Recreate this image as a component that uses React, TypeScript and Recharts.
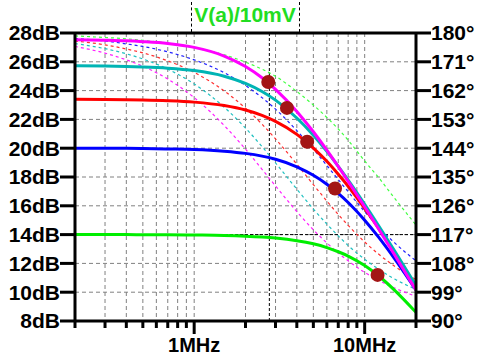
import {
    ComposedChart,
    CartesianGrid,
    Line,
    ReferenceDot,
    ReferenceLine,
    XAxis,
    YAxis
} from "recharts";

// frequency points (Hz)
const freqs = [2e5, 3e5, 4e5, 5e5, 7e5, 1e6, 1.5e6, 2e6, 2.5e6, 3e6, 4e6, 5e6, 6e6, 7e6, 8e6, 1e7, 1.2e7, 1.5e7, 2e7];

// magnitude (dB)
const magMagenta = [27.53, 27.5, 27.46, 27.4, 27.27, 27.0, 26.4, 25.67, 24.89, 24.09, 22.55, 21.14, 19.87, 18.73, 17.7, 15.93, 14.44, 12.58, 10.14];
const magCyan = [25.72, 25.7, 25.67, 25.64, 25.56, 25.39, 25.0, 24.5, 23.94, 23.34, 22.1, 20.9, 19.78, 18.74, 17.79, 16.11, 14.67, 12.86, 10.46];
const magRed = [23.4, 23.38, 23.37, 23.35, 23.3, 23.2, 22.96, 22.65, 22.28, 21.86, 20.96, 20.01, 19.09, 18.19, 17.36, 15.82, 14.48, 12.74, 10.4];
const magBlue = [20.0, 19.99, 19.99, 19.98, 19.95, 19.91, 19.79, 19.64, 19.45, 19.23, 18.71, 18.12, 17.5, 16.86, 16.23, 15.0, 13.86, 12.32, 10.15];
const magGreen = [14.0, 14.0, 14.0, 13.99, 13.99, 13.97, 13.94, 13.89, 13.83, 13.76, 13.58, 13.36, 13.1, 12.81, 12.51, 11.85, 11.16, 10.13, 8.6];

// phase (degrees), dashed traces
const phMagenta = [175.8, 173.7, 171.6, 169.6, 165.6, 159.8, 151.1, 143.7, 137.4, 132.2, 124.2, 118.5, 114.4, 111.2, 108.8, 105.2, 102.8, 100.3, 97.7];
const phCyan = [176.7, 175.1, 173.5, 171.9, 168.7, 164.1, 156.8, 150.3, 144.5, 139.4, 131.2, 125.0, 120.3, 116.6, 113.6, 109.3, 106.3, 103.1, 99.9];
const phRed = [177.5, 176.3, 175.0, 173.8, 171.3, 167.7, 161.9, 156.5, 151.5, 146.9, 139.0, 132.6, 127.5, 123.3, 119.9, 114.7, 111.0, 107.1, 102.9];
const phBlue = [178.3, 177.5, 176.6, 175.8, 174.1, 171.6, 167.6, 163.6, 159.8, 156.2, 149.5, 143.7, 138.6, 134.2, 130.4, 124.2, 119.5, 114.4, 108.8];
const phGreen = [179.1, 178.6, 178.2, 177.7, 176.8, 175.4, 173.2, 170.9, 168.7, 166.5, 161.7, 157.5, 153.6, 150.0, 146.5, 140.0, 135.0, 128.3, 120.0];

// cursor markers (-3dB points)
const markerFreqs = [2.72e6, 3.5e6, 4.6e6, 6.7e6, 1.19e7];
const markerDb = [24.6, 22.8, 20.45, 17.2, 11.2];

const cursorFreq = 2.76e6;
const cursorDb = 14;

const xTicks = [2e5, 3e5, 4e5, 5e5, 6e5, 7e5, 8e5, 9e5, 1e6, 2e6, 3e6, 4e6, 5e6, 6e6, 7e6, 8e6, 9e6, 1e7, 2e7];
const xLabels: Record<number, string> = { 1000000: "1MHz", 10000000: "10MHz" };
const dbTicks = [8, 10, 12, 14, 16, 18, 20, 22, 24, 26, 28];
const degTicks = [90, 99, 108, 117, 126, 135, 144, 153, 162, 171, 180];

const data = freqs.map((f, i) => ({
    f,
    mM: magMagenta[i], mC: magCyan[i], mR: magRed[i], mB: magBlue[i], mG: magGreen[i],
    pM: phMagenta[i], pC: phCyan[i], pR: phRed[i], pB: phBlue[i], pG: phGreen[i],
}));

const FONT = '"Liberation Sans", Arial, sans-serif';

const XTick = (props: any) => {
    const { x, y, payload } = props;
    const label = xLabels[payload.value];
    return <g>
        <line x1={x} x2={x} y1={y} y2={y + (label ? 13 : 7)} stroke="#000" strokeWidth={3} />
        {label && <text x={x} y={y + 31} textAnchor="middle" fontSize={20} fontWeight="bold" fontFamily={FONT} fill="#000">{label}</text>}
    </g>;
};

const dash = { strokeWidth: 1.2, strokeDasharray: "3 3", dot: false, isAnimationActive: false, type: "monotone" as const, yAxisId: "deg" };
const solid = { strokeWidth: 3, dot: false, isAnimationActive: false, type: "monotone" as const, yAxisId: "db" };

export default function App() {
    return <div style={{ position: "absolute", left: 0, top: 0, width: 478, height: 357, background: "#fff" }}>
        <ComposedChart width={478} height={357} data={data} margin={{ top: 33, right: 0, bottom: 0, left: 0 }}>
            <CartesianGrid stroke="#808080" strokeDasharray="4 3" yAxisId="db" />
            <XAxis dataKey="f" type="number" scale="log" domain={[2e5, 2e7]} ticks={xTicks} allowDataOverflow
                   height={36} tickSize={0} tickMargin={0} tick={<XTick />} tickLine={false}
                   axisLine={{ stroke: "#000", strokeWidth: 3 }} interval={0} />
            <YAxis yAxisId="db" orientation="left" domain={[8, 28]} ticks={dbTicks} width={75} interval={0}
                   tickSize={15} tickMargin={0} tickFormatter={(v: number) => `${v}dB`}
                   tick={{ fontSize: 21, fontWeight: "bold", fill: "#000", fontFamily: FONT }}
                   tickLine={{ stroke: "#000", strokeWidth: 3 }} axisLine={{ stroke: "#000", strokeWidth: 3 }} />
            <YAxis yAxisId="deg" orientation="right" domain={[90, 180]} ticks={degTicks} width={62} interval={0}
                   tickSize={15} tickMargin={0} tickFormatter={(v: number) => `${v}°`}
                   tick={{ fontSize: 21, fontWeight: "bold", fill: "#000", fontFamily: FONT }}
                   tickLine={{ stroke: "#000", strokeWidth: 3 }} axisLine={{ stroke: "#000", strokeWidth: 3 }} />
            <ReferenceLine yAxisId="db" y={cursorDb} stroke="#000" strokeDasharray="3 2" strokeWidth={1} />
            <ReferenceLine yAxisId="db" x={cursorFreq} stroke="#000" strokeDasharray="3 2" strokeWidth={1} />

            <Line dataKey="pG" stroke="#40ff40" {...dash} />
            <Line dataKey="pB" stroke="#2020ff" {...dash} />
            <Line dataKey="pR" stroke="#ff3030" {...dash} />
            <Line dataKey="pC" stroke="#20c0c0" {...dash} />
            <Line dataKey="pM" stroke="#ff20ff" {...dash} />

            <Line dataKey="mG" stroke="#00ee00" {...solid} />
            <Line dataKey="mB" stroke="#0000ff" {...solid} />
            <Line dataKey="mR" stroke="#ff0000" {...solid} />
            <Line dataKey="mC" stroke="#00b4b4" {...solid} />
            <Line dataKey="mM" stroke="#ff00ff" {...solid} />

            <ReferenceLine yAxisId="db" y={28} stroke="#000" strokeWidth={3} />
            {markerFreqs.map((f, i) =>
                <ReferenceDot key={i} yAxisId="db" x={f} y={markerDb[i]} r={7} fill="#a31515" stroke="none" />)}
        </ComposedChart>
        <div style={{
            position: "absolute", left: 191, top: 2, width: 107, height: 30,
            borderLeft: "1px dashed #000", borderRight: "1px dashed #000"
        }} />
        <div style={{
            position: "absolute", left: 191, top: 2, width: 108, textAlign: "center",
            fontFamily: FONT, fontWeight: "bold", fontSize: 21, lineHeight: "26px", color: "#22dd22"
        }}>V(a)/10mV</div>
    </div>;
}
